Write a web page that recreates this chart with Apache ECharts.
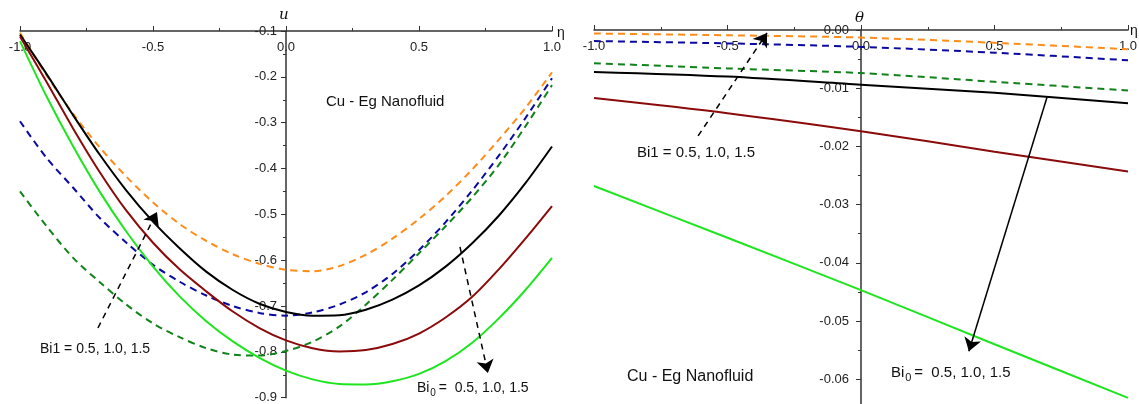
<!DOCTYPE html>
<html>
<head>
<meta charset="utf-8">
<script src="https://cdn.jsdelivr.net/npm/echarts@6/dist/echarts.min.js"></script>
<style>
  html, body { margin: 0; padding: 0; background: #fff; }
  #chart { width: 1139px; height: 404px; }
</style>
</head>
<body>
<div id="chart"></div>
<script>
// left panel: velocity u vs eta
const etaL = [-1, -0.9, -0.8, -0.7, -0.6, -0.5, -0.4, -0.3, -0.2, -0.1, 0,
              0.1, 0.2, 0.3, 0.4, 0.5, 0.6, 0.7, 0.8, 0.9, 1];
const uOrange = [-0.104, -0.197, -0.281, -0.354, -0.418, -0.474, -0.521, -0.558, -0.587, -0.608, -0.621,
                 -0.624, -0.613, -0.588, -0.553, -0.510, -0.460, -0.402, -0.337, -0.268, -0.190];
const uBlue   = [-0.297, -0.377, -0.442, -0.508, -0.562, -0.610, -0.647, -0.677, -0.700, -0.715, -0.721,
                 -0.714, -0.697, -0.670, -0.630, -0.578, -0.517, -0.448, -0.372, -0.290, -0.203];
const uGreen  = [-0.450, -0.526, -0.595, -0.648, -0.697, -0.738, -0.768, -0.792, -0.806, -0.808, -0.798,
                 -0.778, -0.745, -0.697, -0.643, -0.585, -0.526, -0.463, -0.392, -0.308, -0.218];
const uBlack  = [-0.108, -0.194, -0.284, -0.370, -0.448, -0.516, -0.574, -0.625, -0.665, -0.695, -0.713,
                 -0.721, -0.720, -0.708, -0.686, -0.655, -0.614, -0.563, -0.503, -0.432, -0.352];
const uMaroon = [-0.112, -0.211, -0.313, -0.408, -0.492, -0.562, -0.620, -0.668, -0.712, -0.748, -0.775,
                 -0.792, -0.799, -0.796, -0.783, -0.760, -0.725, -0.680, -0.620, -0.553, -0.482];
const uLime   = [-0.122, -0.243, -0.352, -0.451, -0.538, -0.614, -0.679, -0.733, -0.777, -0.813, -0.841,
                 -0.860, -0.870, -0.871, -0.864, -0.848, -0.820, -0.780, -0.727, -0.665, -0.595];

// right panel: temperature theta vs eta
const etaR = [-1, -0.5, 0, 0.5, 1];
const tOrange = [-0.0006, -0.0009, -0.0013, -0.0022, -0.0033];
const tBlue   = [-0.0019, -0.0023, -0.0029, -0.0039, -0.0052];
const tGreen  = [-0.0057, -0.0066, -0.0074, -0.0089, -0.0104];
const tBlack  = [-0.0072, -0.0080, -0.0094, -0.0108, -0.0126];
const tMaroon = [-0.0117, -0.0143, -0.0174, -0.0209, -0.0243];
const tLime   = [-0.0268, -0.0357, -0.0447, -0.0540, -0.0632];

// arrows (data coords) [x1, y1, x2, y2]
const arrowL1 = [-0.707, -0.748, -0.485, -0.495];
const arrowL2 = [0.654, -0.571, 0.759, -0.846];
const arrowR1 = [-0.610, -0.0182, -0.352, -0.0005];
const arrowR2 = [0.697, -0.0115, 0.404, -0.0552];

const FONT = "Liberation Sans, Arial, sans-serif";
const colors = {
    orange: "#FF8C1A", blue: "#0A0AA0", green: "#12821A",
    black: "#000000", maroon: "#8B0A0A", lime: "#1EE61E"
};

const gridL = { left: 20, top: 31, width: 532, height: 366.7 };
const gridR = { left: 594, top: 30, width: 534, height: 407.4 };

function pairs(xs, ys) {
    return xs.map((x, i) => [x, ys[i]]);
}

function line(name, xs, ys, color, dashed, idx, extra) {
    return Object.assign({
        name: name, type: "line", xAxisIndex: idx, yAxisIndex: idx,
        data: pairs(xs, ys), showSymbol: false, smooth: 0.3,
        lineStyle: { color: color, width: 2, type: dashed ? [7, 5] : "solid" },
        silent: true
    }, extra || {});
}

function arrow(a, dashed) {
    return {
        silent: true, symbol: ["none", "arrow"], symbolSize: 13,
        label: { show: false },
        lineStyle: { color: "#000", width: 1.5, type: dashed ? [6, 5] : "solid" },
        data: [[{ coord: [a[0], a[1]] }, { coord: [a[2], a[3]] }]]
    };
}

function xAx(idx) {
    return {
        gridIndex: idx, type: "value", min: -1, max: 1, interval: 0.5, position: "top",
        axisLine: { onZero: false, lineStyle: { color: "#333", width: 1.5 } },
        axisTick: { inside: false, length: 5, lineStyle: { color: "#333" } },
        minorTick: { show: true, splitNumber: 2, length: 3, lineStyle: { color: "#333" } },
        axisLabel: { inside: true, margin: 10, color: "#222", fontFamily: FONT, fontSize: 13,
            showMinLabel: true, showMaxLabel: true, formatter: v => v.toFixed(1) },
        splitLine: { show: false }
    };
}

// y axis drawn at eta = 0 by shifting it half the grid width
function yAx(idx, g, min, max, interval, dec, margin) {
    return {
        gridIndex: idx, type: "value", min: min, max: max, interval: interval,
        position: "left", offset: -g.width / 2,
        axisLine: { onZero: false, lineStyle: { color: "#333", width: 1.5 } },
        axisTick: { length: 5, lineStyle: { color: "#333" } },
        minorTick: { show: true, splitNumber: 2, length: 3, lineStyle: { color: "#333" } },
        axisLabel: { margin: margin, color: "#222", fontFamily: FONT, fontSize: 13,
            showMinLabel: true, showMaxLabel: true, formatter: v => v.toFixed(dec) },
        splitLine: { show: false }
    };
}

function txt(x, y, s, size, extra) {
    return {
        type: "text", x: x, y: y, silent: true,
        style: Object.assign({ text: s, fill: "#111", font: size + "px " + FONT,
            textVerticalAlign: "middle" }, extra || {})
    };
}

function biZero(x, y, size) {
    return [
        txt(x, y, "Bi", size),
        txt(x + size * 0.95, y + 5, "0", Math.round(size * 0.7)),
        txt(x + size * 1.55, y, "=  0.5, 1.0, 1.5", size)
    ];
}

let chart = echarts.init(document.getElementById("chart"));
chart.setOption({
    animation: false,
    grid: [
        Object.assign({ outerBoundsMode: "none", containLabel: false }, gridL),
        Object.assign({ outerBoundsMode: "none", containLabel: false }, gridR)
    ],
    xAxis: [xAx(0), xAx(1)],
    yAxis: [yAx(0, gridL, -0.9, -0.1, 0.1, 1, 9), yAx(1, gridR, -0.07, 0, 0.01, 2, 12)],
    series: [
        line("oL", etaL, uOrange, colors.orange, true, 0),
        line("bL", etaL, uBlue, colors.blue, true, 0),
        line("gL", etaL, uGreen, colors.green, true, 0),
        line("kL", etaL, uBlack, colors.black, false, 0, { markLine: arrow(arrowL1, true) }),
        line("mL", etaL, uMaroon, colors.maroon, false, 0, { markLine: arrow(arrowL2, true) }),
        line("lL", etaL, uLime, colors.lime, false, 0),
        line("oR", etaR, tOrange, colors.orange, true, 1),
        line("bR", etaR, tBlue, colors.blue, true, 1),
        line("gR", etaR, tGreen, colors.green, true, 1),
        line("kR", etaR, tBlack, colors.black, false, 1, { markLine: arrow(arrowR1, true) }),
        line("mR", etaR, tMaroon, colors.maroon, false, 1, { markLine: arrow(arrowR2, false) }),
        line("lR", etaR, tLime, colors.lime, false, 1)
    ],
    graphic: [
        txt(279, 15, "u", 15, { font: "italic 15px DejaVu Serif, serif" }),
        txt(557, 33, "η", 14),
        txt(855, 18, "θ", 15, { font: "italic 15px DejaVu Serif, serif" }),
        txt(1130, 31, "η", 14),
        txt(326, 102, "Cu - Eg Nanofluid", 15),
        txt(40, 349, "Bi1 = 0.5, 1.0, 1.5", 14),
        ...biZero(417, 388, 14),
        txt(637, 153, "Bi1 = 0.5, 1.0, 1.5", 15),
        txt(627, 377, "Cu - Eg Nanofluid", 16),
        ...biZero(891, 373, 15)
    ]
});
</script>
</body>
</html>
